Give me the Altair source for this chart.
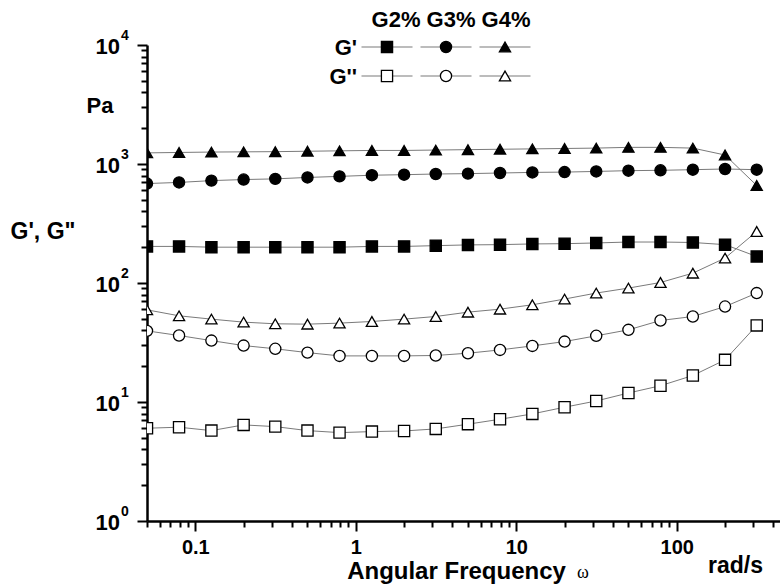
import altair as alt
import pandas as pd

# ---------------- data ----------------
freq = [0.05, 0.0792, 0.126, 0.2, 0.315, 0.5, 0.792, 1.26, 2.0, 3.15,
        5.0, 7.92, 12.6, 20.0, 31.5, 50.0, 79.2, 126.0, 200.0, 315.0]

g2_storage = [203, 203, 200, 200, 200, 200, 200, 203, 203, 206,
              209, 210, 213, 214, 217, 221, 221, 219, 210, 167]
g3_storage = [685, 700, 725, 740, 750, 771, 787, 805, 813, 824,
              830, 840, 850, 855, 866, 879, 885, 896, 908, 896]
g4_storage = [1240, 1250, 1260, 1265, 1270, 1280, 1290, 1300, 1300, 1310,
              1320, 1330, 1340, 1350, 1360, 1380, 1380, 1360, 1190, 660]

g2_loss = [6.02, 6.14, 5.75, 6.42, 6.21, 5.75, 5.53, 5.64, 5.71, 5.94,
           6.51, 7.16, 7.94, 9.04, 10.2, 11.9, 13.7, 16.7, 22.6, 44.0]
g3_loss = [39.6, 36.2, 32.8, 29.8, 28.0, 26.0, 24.4, 24.4, 24.4, 24.6,
           25.7, 27.4, 29.6, 32.2, 36.0, 40.4, 48.4, 52.3, 63.4, 82.3]
g4_loss = [59.5, 53.0, 49.7, 46.9, 45.4, 45.1, 46.0, 47.5, 49.7, 52.3,
           56.9, 60.3, 65.6, 73.3, 82.3, 90.6, 101, 121, 162, 271]

samples = ["G2%", "G3%", "G4%"]
moduli = ["G'", "G''"]

x_major = [0.1, 1, 10, 100]
y_major = [1, 10, 100, 1000, 10000]
y_exponents = ["0", "1", "2", "3", "4"]

# ---------------- tables ----------------
series = {
    ("G2%", "G'"): g2_storage, ("G3%", "G'"): g3_storage, ("G4%", "G'"): g4_storage,
    ("G2%", "G''"): g2_loss, ("G3%", "G''"): g3_loss, ("G4%", "G''"): g4_loss,
}
rows = []
for (s, m), vals in series.items():
    for f, v in zip(freq, vals):
        rows.append({"freq": f, "val": v, "sample": s, "modulus": m, "series": s + m})
df = pd.DataFrame(rows)

ylab_df = pd.DataFrame({"val": y_major, "base": ["10"] * len(y_major), "exp": y_exponents})
legend_df = pd.DataFrame([{"sample": s, "modulus": m} for m in moduli for s in samples])
row_df = pd.DataFrame({"modulus": moduli})

x_ticks = []
for e in range(-2, 3):
    for k in range(1, 10):
        v = round(k * 10 ** e, 6)
        if 0.05 <= v <= 440:
            x_ticks.append(v)
y_ticks = []
for e in range(0, 4):
    for k in range(1, 10):
        y_ticks.append(k * 10 ** e)
y_ticks.append(10000)

FONT = "Liberation Sans"

x_test = " || ".join(f"datum.value == {v}" for v in x_major)
y_test = " || ".join(f"datum.value == {v}" for v in y_major)
x_label_expr = " : ".join(f"datum.value == {v} ? '{v}'" for v in x_major) + " : ''"

x_axis = alt.Axis(
    values=x_ticks, labelExpr=x_label_expr, grid=False,
    tickSize={"condition": {"test": x_test, "value": 10}, "value": 6},
    tickWidth=2, tickColor="black", domainColor="black", domainWidth=2.5,
    labelFont=FONT, labelFontSize=20, labelFontWeight="bold", labelColor="black",
    labelPadding=6, labelFlush=False, labelOverlap=False,
    title="Angular Frequency", titleFont=FONT, titleFontSize=24, titleFontWeight="bold",
    titleColor="black", titleX=309, titleY=57, titleAlign="center",
    titleBaseline="alphabetic", titleAnchor="start",
)
y_axis = alt.Axis(
    values=y_ticks, labels=False, grid=False,
    tickSize={"condition": {"test": y_test, "value": 10}, "value": 6},
    tickWidth=2, tickColor="black", domainColor="black", domainWidth=2.5,
    title="G', G\"", titleFont=FONT, titleFontSize=23, titleFontWeight="bold",
    titleColor="black", titleAngle=0, titleX=-137, titleY=193, titleAlign="left",
    titleBaseline="alphabetic", titleAnchor="start",
)

x_scale = alt.Scale(type="log", domain=[0.05, 440])
y_scale = alt.Scale(type="log", domain=[1, 10000])

shape_scale = alt.Scale(domain=samples, range=["square", "circle", "triangle-up"])
size_scale = alt.Scale(domain=samples, range=[125, 125, 170])
fill_scale = alt.Scale(domain=moduli, range=["black", "white"])

base = alt.Chart(df).encode(
    x=alt.X("freq:Q", scale=x_scale, axis=x_axis),
    y=alt.Y("val:Q", scale=y_scale, axis=y_axis),
)
lines = base.mark_line(color="#7a7a7a", strokeWidth=1, clip=True).encode(detail="series:N")
points = base.mark_point(opacity=1, fillOpacity=1, stroke="black", strokeWidth=1.3, clip=True).encode(
    shape=alt.Shape("sample:N", scale=shape_scale, legend=None),
    size=alt.Size("sample:N", scale=size_scale, legend=None),
    fill=alt.Fill("modulus:N", scale=fill_scale, legend=None),
)

# y tick labels as 10 + superscript exponent, placed through the y scale
ybase = alt.Chart(ylab_df).mark_text(font=FONT, fontSize=22, fontWeight="bold", align="right",
                                     baseline="middle", dy=2, color="black").encode(
    x=alt.value(-27), y=alt.Y("val:Q", scale=y_scale, axis=y_axis), text="base:N")
yexp = alt.Chart(ylab_df).mark_text(font=FONT, fontSize=14, fontWeight="bold", align="left",
                                    baseline="middle", dy=-9, color="black").encode(
    x=alt.value(-26), y=alt.Y("val:Q", scale=y_scale, axis=y_axis), text="exp:N")

one = pd.DataFrame({"t": [0]})
pa = alt.Chart(one).mark_text(text="Pa", font=FONT, fontSize=22, fontWeight="bold",
                              align="center", baseline="alphabetic", color="black").encode(
    x=alt.value(-47), y=alt.value(68))
omega = alt.Chart(one).mark_text(text="\u03c9", font="Liberation Serif", fontSize=18,
                                 align="center", baseline="alphabetic", color="black").encode(
    x=alt.value(436), y=alt.value(533))
rads = alt.Chart(one).mark_text(text="rad/s", font=FONT, fontSize=23, fontWeight="bold",
                                align="left", baseline="alphabetic", color="black").encode(
    x=alt.value(561), y=alt.value(528))

main = alt.layer(lines, points, ybase, yexp, pa, omega, rads)

# ---------------- custom legend ----------------
lx = alt.X("sample:N", scale=alt.Scale(type="point", domain=samples, range=[240, 358], padding=0), axis=None)
ly = alt.Y("modulus:N", scale=alt.Scale(type="point", domain=moduli, range=[2, 31], padding=0), axis=None)

leg_lines = alt.Chart(legend_df).mark_tick(orient="horizontal", size=51, thickness=1,
                                           color="#7a7a7a", opacity=1).encode(x=lx, y=ly)
leg_points = alt.Chart(legend_df).mark_point(opacity=1, fillOpacity=1, stroke="black",
                                             strokeWidth=1.3).encode(
    x=lx, y=ly,
    shape=alt.Shape("sample:N", scale=shape_scale, legend=None),
    size=alt.Size("sample:N", scale=size_scale, legend=None),
    fill=alt.Fill("modulus:N", scale=fill_scale, legend=None),
)
leg_rows = alt.Chart(row_df).mark_text(font=FONT, fontSize=22, fontWeight="bold", align="right",
                                       baseline="middle", dy=1, color="black").encode(
    x=alt.value(210), y=ly, text="modulus:N")
leg_head = alt.Chart(one).mark_text(text="G2% G3% G4%", font=FONT, fontSize=22, fontWeight="bold",
                                    align="center", baseline="alphabetic", color="black").encode(
    x=alt.value(304), y=alt.value(-18))

legend = alt.layer(leg_lines, leg_points, leg_rows, leg_head)

chart = alt.layer(main, legend).resolve_scale(x="independent", y="independent").properties(
    width=633, height=476,
    padding={"left": 147, "top": 45, "right": 0, "bottom": 64},
    autosize="none", background="white",
).configure_view(stroke=None)

chart.save("out.html", embed_options={"renderer": "svg", "actions": False})
